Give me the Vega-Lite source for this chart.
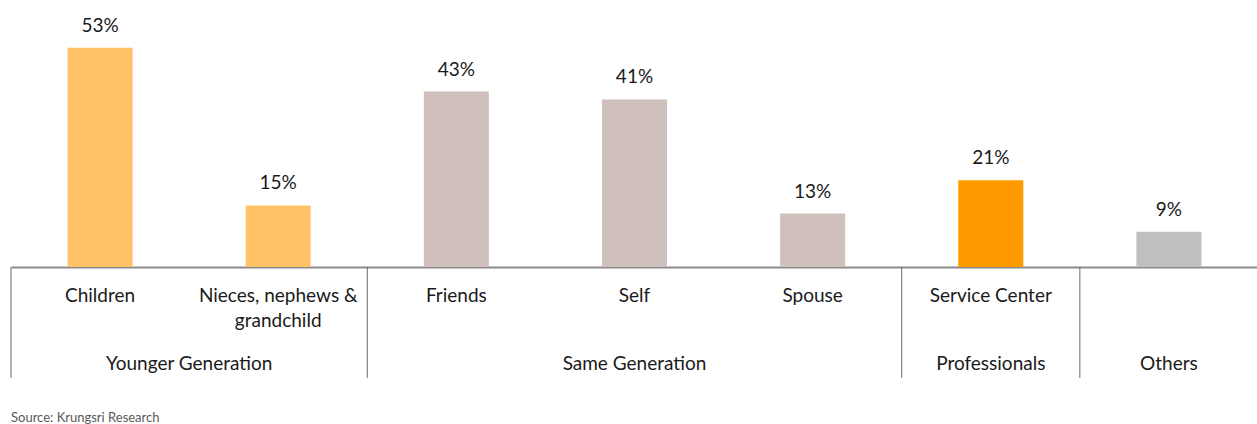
{
  "$schema": "https://vega.github.io/schema/vega-lite/v6.json",
  "width": 1247,
  "height": 267,
  "padding": {"left": 10, "top": 0, "right": 0, "bottom": 0},
  "autosize": {"type": "pad"},
  "background": "white",
  "config": {"view": {"stroke": null}, "font": "Lato"},
  "data": {
    "values": [
      {"cat": "Children", "group": "Younger Generation", "value": 53.4, "label": "53%"},
      {"cat": "Nieces, nephews & grandchild", "group": "Younger Generation", "value": 15.0, "label": "15%"},
      {"cat": "Friends", "group": "Same Generation", "value": 42.7, "label": "43%"},
      {"cat": "Self", "group": "Same Generation", "value": 40.8, "label": "41%"},
      {"cat": "Spouse", "group": "Same Generation", "value": 13.0, "label": "13%"},
      {"cat": "Service Center", "group": "Professionals", "value": 21.1, "label": "21%"},
      {"cat": "Others", "group": "Others", "value": 8.6, "label": "9%"}
    ]
  },
  "encoding": {
    "x": {
      "field": "cat",
      "type": "nominal",
      "sort": null,
      "scale": {"paddingInner": 0, "paddingOuter": 0},
      "axis": {
        "title": null,
        "labelAngle": 0,
        "labelFontSize": 19,
        "labelColor": "#1a1a1a",
        "labelBaseline": "top",
        "labelPadding": 19,
        "labelLineHeight": 25,
        "labelExpr": "datum.value == 'Nieces, nephews & grandchild' ? ['Nieces, nephews &', 'grandchild'] : (datum.value == 'Others' ? '' : datum.value)",
        "ticks": false,
        "tickSize": 0,
        "domain": true,
        "domainColor": "#8a8a8a",
        "domainWidth": 2,
        "grid": false,
        "labelLimit": 400
      }
    }
  },
  "layer": [
    {
      "mark": {"type": "bar", "width": {"band": 0.365}},
      "encoding": {
        "y": {"field": "value", "type": "quantitative", "scale": {"domain": [0, 65], "nice": false}, "axis": null},
        "color": {
          "field": "group",
          "type": "nominal",
          "scale": {
            "domain": ["Younger Generation", "Same Generation", "Professionals", "Others"],
            "range": ["#FFC266", "#CFC0BE", "#FF9900", "#BFBFBF"]
          },
          "legend": null
        }
      }
    },
    {
      "mark": {"type": "text", "fontSize": 19, "color": "#1a1a1a", "baseline": "alphabetic", "dy": -16},
      "encoding": {
        "y": {"field": "value", "type": "quantitative"},
        "text": {"field": "label"}
      }
    },
    {
      "transform": [{"filter": "indexof(['Children', 'Friends', 'Service Center', 'Others'], datum.cat) >= 0"}],
      "mark": {"type": "rule", "color": "#6b6b6b", "strokeWidth": 1, "clip": false},
      "encoding": {
        "x": {"field": "cat", "type": "nominal", "sort": null, "bandPosition": 0},
        "y": {"datum": 0},
        "y2": {"datum": -27}
      }
    },
    {
      "transform": [{"filter": "datum.cat == 'Nieces, nephews & grandchild'"}],
      "mark": {"type": "text", "fontSize": 19, "color": "#1a1a1a", "baseline": "alphabetic"},
      "encoding": {
        "x": {"field": "cat", "type": "nominal", "sort": null, "bandPosition": 0},
        "y": {"datum": -25},
        "text": {"field": "group"}
      }
    },
    {
      "transform": [{"filter": "indexof(['Self', 'Service Center', 'Others'], datum.cat) >= 0"}],
      "mark": {"type": "text", "fontSize": 19, "color": "#1a1a1a", "baseline": "alphabetic"},
      "encoding": {
        "y": {"datum": -25},
        "text": {"field": "group"}
      }
    },
    {
      "data": {"values": [{"source": "Source: Krungsri Research"}]},
      "mark": {"type": "text", "fontSize": 13, "color": "#595959", "align": "left", "baseline": "alphabetic"},
      "encoding": {
        "x": {"datum": "Children", "type": "nominal", "bandPosition": 0},
        "y": {"datum": -37.7},
        "text": {"field": "source"}
      }
    }
  ]
}
